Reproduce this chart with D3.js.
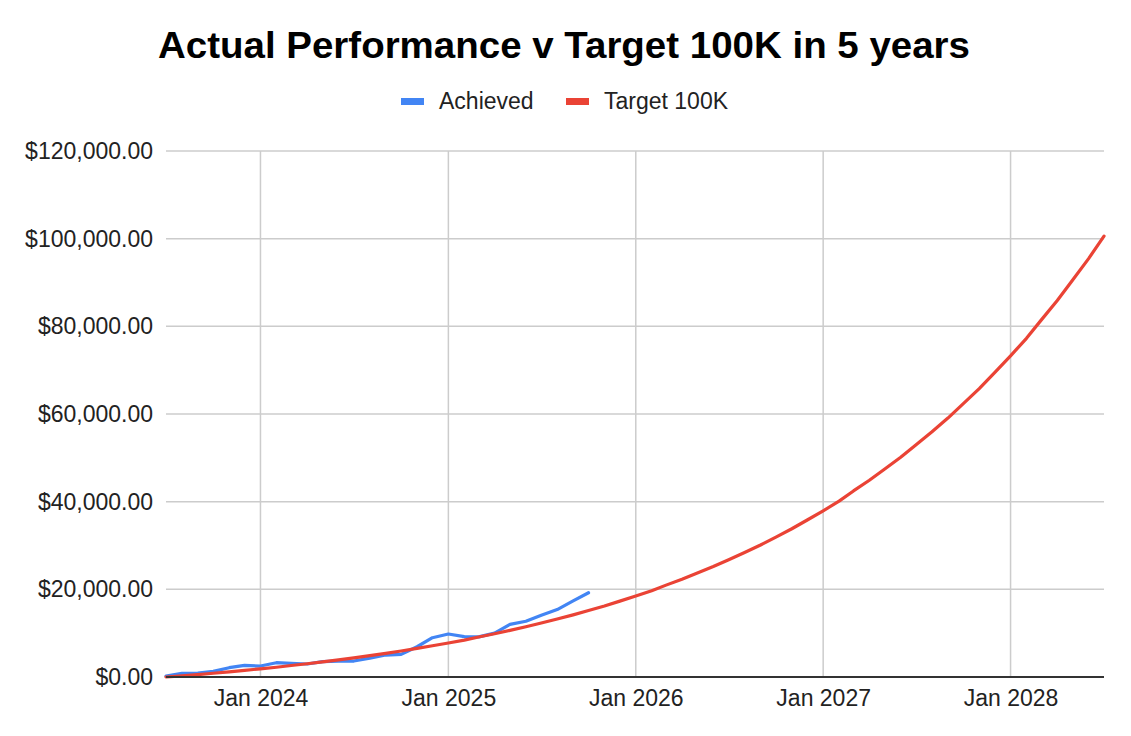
<!DOCTYPE html>
<html>
<head>
<meta charset="utf-8">
<script src="https://cdn.jsdelivr.net/npm/d3@7"></script>
<style>
  html, body { margin: 0; padding: 0; background: #fff; }
  svg { display: block; }
  text { font-family: "Liberation Sans", Arial, sans-serif; }
</style>
</head>
<body>
<svg id="chart" width="1131" height="736"></svg>
<script>
// ---- data ----
const startMonth = "2023-07";
const achievedValues = [200, 830, 900, 1290, 2120, 2650, 2500, 3260, 3100, 2960, 3490, 3640, 3640, 4320,
  5010, 5170, 6900, 8960, 9800, 9200, 9150, 10000, 12000, 12720, 14100, 15380, 17350, 19220];
const targetValues = [0, 273, 560, 862, 1179, 1513, 1863, 2231, 2618, 3025, 3452, 3902, 4374, 4870,
  5392, 5940, 6516, 7122, 7758, 8427, 9130, 9869, 10645, 11461, 12319, 13220, 14168, 15164,
  16210, 17310, 18467, 19681, 20958, 22300, 23711, 25193, 26751, 28389, 30110, 31919, 33820,
  35818, 37918, 40125, 42445, 44883, 47445, 50138, 52968, 55942, 59069, 62354, 65808, 69437,
  73251, 77260, 81474, 85902, 90556, 95448, 100589];
const yTicks = [0, 20000, 40000, 60000, 80000, 100000, 120000];
const xTickLabels = ["Jan 2024", "Jan 2025", "Jan 2026", "Jan 2027", "Jan 2028"];
const seriesNames = ["Achieved", "Target 100K"];
const seriesColors = ["#4285f4", "#ea4335"];
const title = "Actual Performance v Target 100K in 5 years";

// ---- build ----
const parseMonth = d3.timeParse("%Y-%m");
const t0 = parseMonth(startMonth);
const monthDate = i => d3.timeMonth.offset(t0, i);
const achieved = achievedValues.map((v, i) => ({ date: monthDate(i), value: v }));
const target = targetValues.map((v, i) => ({ date: monthDate(i), value: v }));
const xTicks = xTickLabels.map(s => d3.timeParse("%b %Y")(s));

const svg = d3.select("#chart");
const margin = { left: 166, right: 27, top: 151, bottom: 59 };
const W = 1131, H = 736;
const FONT = "Liberation Sans, Arial, sans-serif";

const x = d3.scaleTime()
  .domain([t0, monthDate(targetValues.length - 1)])
  .range([margin.left, W - margin.right]);
const y = d3.scaleLinear().domain([0, 120000]).range([H - margin.bottom, margin.top]);

// gridlines
svg.append("g")
  .selectAll("line")
  .data(yTicks.filter(d => d > 0))
  .join("line")
  .attr("x1", margin.left).attr("x2", W - margin.right)
  .attr("y1", d => y(d)).attr("y2", d => y(d))
  .attr("stroke", "#cccccc").attr("stroke-width", 1.5);

svg.append("g")
  .selectAll("line")
  .data(xTicks)
  .join("line")
  .attr("x1", d => x(d)).attr("x2", d => x(d))
  .attr("y1", margin.top).attr("y2", H - margin.bottom)
  .attr("stroke", "#cccccc").attr("stroke-width", 1.5);

// y axis labels
const yAxis = d3.axisLeft(y).tickValues(yTicks).tickSize(0).tickPadding(0)
  .tickFormat(d => "$" + d3.format(",.2f")(d));
svg.append("g")
  .attr("transform", `translate(${margin.left - 13},0)`)
  .call(yAxis)
  .call(g => g.select(".domain").remove())
  .call(g => g.selectAll("text")
    .attr("font-family", FONT)
    .attr("font-size", 23).attr("fill", "#222"));

// x axis labels
const xAxis = d3.axisBottom(x).tickValues(xTicks).tickSize(0).tickPadding(0)
  .tickFormat(d3.timeFormat("%b %Y"));
svg.append("g")
  .attr("transform", `translate(0,${H - margin.bottom + 13})`)
  .call(xAxis)
  .call(g => g.select(".domain").remove())
  .call(g => g.selectAll("text")
    .attr("font-family", FONT)
    .attr("font-size", 23).attr("fill", "#222"));

// lines
const line = d3.line().x(d => x(d.date)).y(d => y(d.value)).curve(d3.curveLinear);
svg.append("path").datum(achieved)
  .attr("d", line).attr("fill", "none")
  .attr("stroke", seriesColors[0]).attr("stroke-width", 3.2)
  .attr("stroke-linejoin", "round").attr("stroke-linecap", "round");
svg.append("path").datum(target)
  .attr("d", line).attr("fill", "none")
  .attr("stroke", seriesColors[1]).attr("stroke-width", 3.2)
  .attr("stroke-linejoin", "round").attr("stroke-linecap", "round");

// baseline
svg.append("line")
  .attr("x1", margin.left).attr("x2", W - margin.right)
  .attr("y1", y(0)).attr("y2", y(0))
  .attr("stroke", "#333").attr("stroke-width", 2);

// title
svg.append("text")
  .attr("x", 158).attr("y", 58)
  .attr("font-size", 37).attr("font-weight", "bold").attr("fill", "#000")
  .attr("textLength", 812).attr("lengthAdjust", "spacingAndGlyphs")
  .text(title);

// legend
const legendItems = [
  { name: seriesNames[0], color: seriesColors[0], sx: 401, tx: 439 },
  { name: seriesNames[1], color: seriesColors[1], sx: 566, tx: 604 }
];
const lg = svg.append("g");
lg.selectAll("rect").data(legendItems).join("rect")
  .attr("x", d => d.sx).attr("y", 98).attr("width", 23).attr("height", 7)
  .attr("fill", d => d.color);
lg.selectAll("text").data(legendItems).join("text")
  .attr("x", d => d.tx).attr("y", 109)
  .attr("font-size", 23).attr("fill", "#222")
  .text(d => d.name);
</script>
</body>
</html>
